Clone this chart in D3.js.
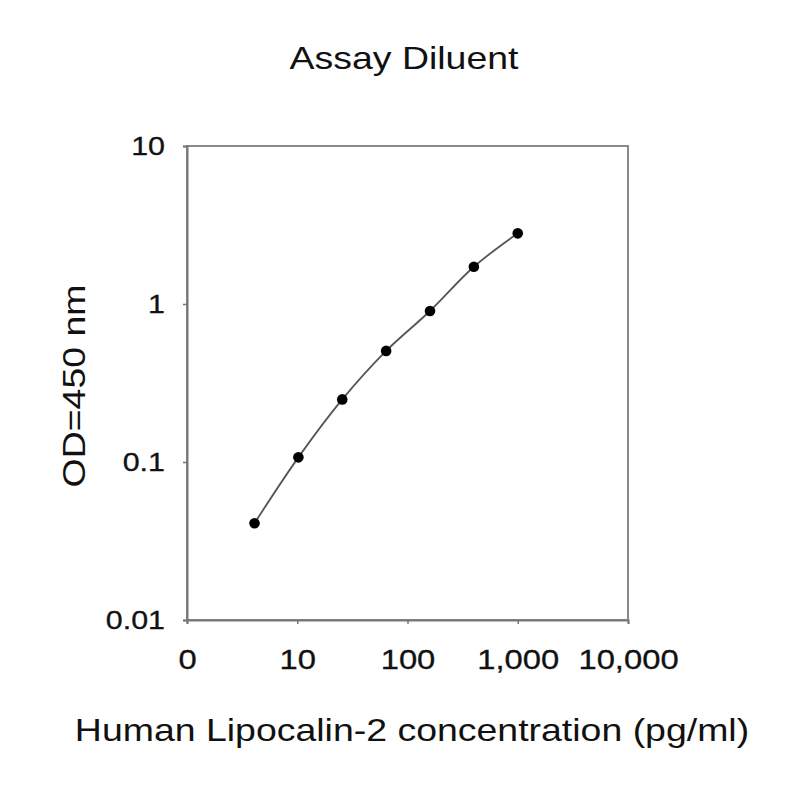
<!DOCTYPE html>
<html>
<head>
<meta charset="utf-8">
<script src="https://cdn.jsdelivr.net/npm/d3@7"></script>
<style>
  html, body { margin: 0; padding: 0; background: #fff; }
  text { font-family: "Liberation Sans", Arial, Helvetica, sans-serif; fill: #111; }
</style>
</head>
<body>
<svg id="chart" width="800" height="800"></svg>
<script>
// Data
const concentrations = [4.096, 10.24, 25.6, 64, 160, 400, 1000]; // pg/ml
const odValues = [0.041, 0.107, 0.249, 0.505, 0.903, 1.72, 2.80];
const xTickValues = [1, 10, 100, 1000, 10000];
const xTickLabels = ["0", "10", "100", "1,000", "10,000"];
const yTickValues = [0.01, 0.1, 1, 10];
const yTickLabels = ["0.01", "0.1", "1", "10"];
const titleText = "Assay Diluent";
const xLabelText = "Human Lipocalin-2 concentration (pg/ml)";
const yLabelText = "OD=450 nm";

(function () {
const svg = d3.select("#chart");
const pL = 187, pR = 628, pT = 146, pB = 620;
const stretch = 1.17;

const x = d3.scaleLog().domain([1, 10000]).range([pL, pR]);
const y = d3.scaleLog().domain([0.01, 10]).range([pB, pT]);

// Frame
svg.append("rect")
  .attr("x", pL).attr("y", pT)
  .attr("width", pR - pL).attr("height", pB - pT)
  .attr("fill", "none").attr("stroke", "#8a8a8a").attr("stroke-width", 2);

// Axes
const xAxis = d3.axisBottom(x)
  .tickValues(xTickValues)
  .tickFormat((d, i) => xTickLabels[i])
  .tickSize(4).tickPadding(25);
const gx = svg.append("g").attr("transform", `translate(0,${pB})`).call(xAxis);
gx.select(".domain").attr("stroke", "#777").attr("stroke-width", 2);
gx.selectAll(".tick line").attr("stroke", "#777").attr("stroke-width", 1.5);
gx.selectAll(".tick text").attr("font-size", 28).attr("fill", "#111")
  .attr("stroke", "#111").attr("stroke-width", 0.3)
  .attr("font-family", '"Liberation Sans", Arial, sans-serif');

const yAxis = d3.axisLeft(y)
  .tickValues(yTickValues)
  .tickFormat((d, i) => yTickLabels[i])
  .tickSize(4).tickPadding(18);
const gy = svg.append("g").attr("transform", `translate(${pL},0)`).call(yAxis);
gy.select(".domain").attr("stroke", "#777").attr("stroke-width", 2);
gy.selectAll(".tick line").attr("stroke", "#777").attr("stroke-width", 1.5);
gy.selectAll(".tick text").attr("font-size", 26).attr("fill", "#111")
  .attr("stroke", "#111").attr("stroke-width", 0.3)
  .attr("font-family", '"Liberation Sans", Arial, sans-serif');

// Curve
const pts = concentrations.map((c, i) => [c, odValues[i]]);
const line = d3.line()
  .x(d => x(d[0])).y(d => y(d[1]))
  .curve(d3.curveCatmullRom.alpha(0.5));
svg.append("path").datum(pts)
  .attr("d", line)
  .attr("fill", "none").attr("stroke", "#555").attr("stroke-width", 1.8);

svg.selectAll("circle.pt").data(pts).enter().append("circle")
  .attr("class", "pt")
  .attr("cx", d => x(d[0])).attr("cy", d => y(d[1]))
  .attr("r", 5.3).attr("fill", "#000");

// Title and labels
svg.append("text").attr("class", "title")
  .attr("x", 404).attr("y", 69)
  .attr("text-anchor", "middle").attr("font-size", 32)
  .text(titleText);

svg.append("text").attr("class", "xlabel")
  .attr("x", 412).attr("y", 741)
  .attr("text-anchor", "middle").attr("font-size", 32)
  .text(xLabelText);

svg.append("text").attr("class", "ylabel")
  .attr("transform", "translate(85,386) rotate(-90)")
  .attr("text-anchor", "middle").attr("font-size", 32)
  .text(yLabelText);

// Widen glyphs to match the reference's wider typeface
svg.selectAll("text").each(function () {
  const len = this.getComputedTextLength();
  d3.select(this).attr("textLength", len * stretch).attr("lengthAdjust", "spacingAndGlyphs");
});
})();
</script>
</body>
</html>
